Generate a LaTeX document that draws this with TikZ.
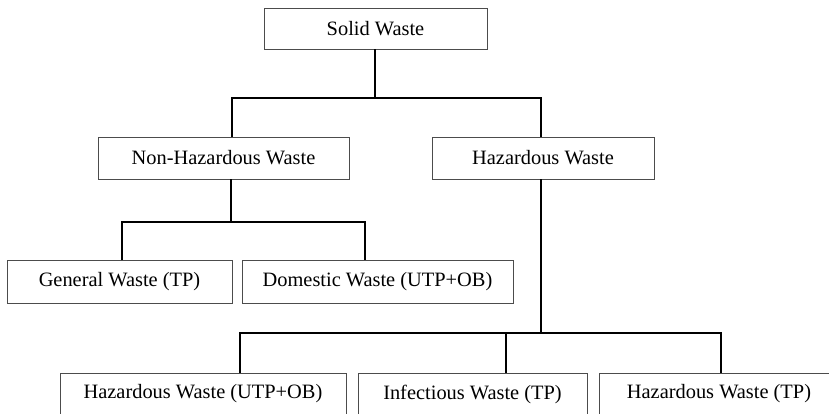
\documentclass[tikz,border=0pt]{standalone}
\usepackage{fontspec}
\setmainfont{Liberation Serif}
\begin{document}
\begin{tikzpicture}[x=1pt,y=-1pt,
  box/.style={draw=black!70, line width=0.7pt, rectangle, inner sep=0pt, outer sep=0pt,
    font=\fontsize{20.4}{24}\selectfont, text=black},
  conn/.style={draw=black, line width=1.3pt}]
\useasboundingbox (0,0) rectangle (829,413);
\fill[white] (0,0) rectangle (829,413);
% nodes
\node[box, minimum width=223pt, minimum height=41pt] (sw) at (375.5,28.5) {Solid Waste};
\node[box, minimum width=251pt, minimum height=42pt] (nh) at (223.5,158) {Non-Hazardous Waste};
\node[box, minimum width=222pt, minimum height=42pt] (hz) at (543,158) {Hazardous Waste};
\node[box, minimum width=225pt, minimum height=43pt] (gw) at (119.5,281.5) {General Waste (TP)};
\node[box, minimum width=271pt, minimum height=43pt] (dw) at (377.5,281.5) {Domestic Waste (UTP+OB)};
\node[box, minimum width=286pt, minimum height=42pt] (hu) at (203,394) {Hazardous Waste (UTP+OB)};
\node[box, minimum width=229pt, minimum height=42pt] (iw) at (472.5,394) {Infectious Waste (TP)};
\node[box, minimum width=240pt, minimum height=42pt] (ht) at (719,394) {Hazardous Waste (TP)};
% junctions
\coordinate (j1) at (375,98);
\coordinate (a1) at (232,98);
\coordinate (a2) at (541,98);
\coordinate (b0) at (231,222);
\coordinate (b1) at (122,222);
\coordinate (b2) at (365,222);
\coordinate (c0) at (541,333);
\coordinate (c1) at (240,333);
\coordinate (c2) at (506,333);
\coordinate (c3) at (721,333);
% connectors
\draw[conn] (sw.south -| j1) -- (j1);
\draw[conn] (nh.north -| a1) -- (a1) -- (a2) -- (hz.north -| a2);
\draw[conn] (nh.south -| b0) -- (b0);
\draw[conn] (gw.north -| b1) -- (b1) -- (b2) -- (dw.north -| b2);
\draw[conn] (hz.south -| c0) -- (c0);
\draw[conn] (hu.north -| c1) -- (c1) -- (c3) -- (ht.north -| c3);
\draw[conn] (c2) -- (iw.north -| c2);
\end{tikzpicture}
\end{document}
